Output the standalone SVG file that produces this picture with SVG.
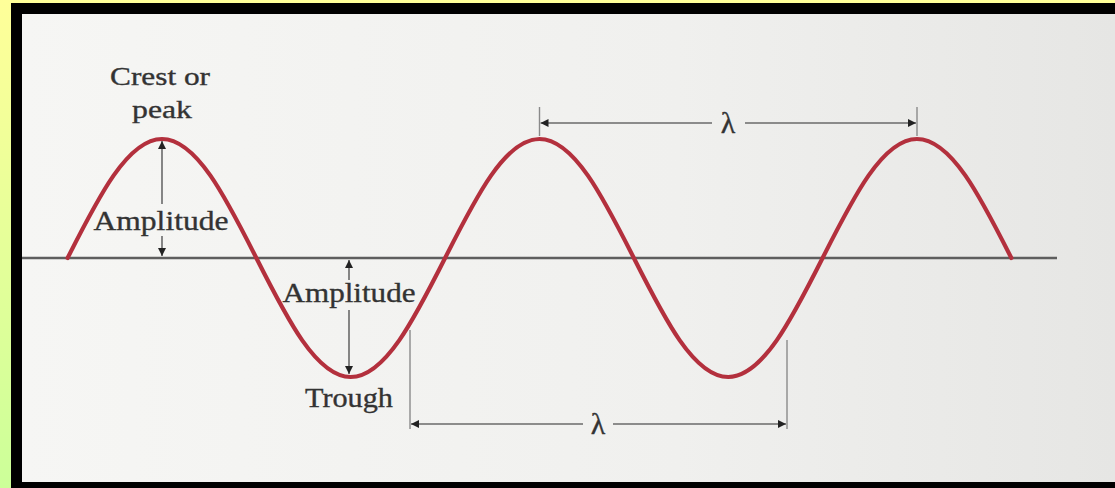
<svg xmlns="http://www.w3.org/2000/svg" width="1115" height="488" viewBox="0 0 1115 488">
  <defs>
    <linearGradient id="border" x1="0" y1="0" x2="0" y2="1">
      <stop offset="0" stop-color="#ffff99"/>
      <stop offset="1" stop-color="#ccff99"/>
    </linearGradient>
    <linearGradient id="paper" x1="0" y1="0" x2="1" y2="0">
      <stop offset="0" stop-color="#f6f6f4"/>
      <stop offset="0.6" stop-color="#f0f0ee"/>
      <stop offset="1" stop-color="#e6e6e4"/>
    </linearGradient>
    <marker id="ah" viewBox="0 0 10 10" refX="10" refY="5" markerWidth="8" markerHeight="8" markerUnits="userSpaceOnUse" orient="auto-start-reverse">
      <path d="M0 0 L10 5 L0 10 z" fill="#222"/>
    </marker>
    <style>
      .lbl { font-family: "Liberation Serif", "Times New Roman", serif; fill: #333; stroke: #333; stroke-width: 0.35; text-anchor: middle; }
      .dim { stroke: #6a6a6a; stroke-width: 1.6; fill: none; }
      .tick { stroke: #8a8a8a; stroke-width: 1.4; fill: none; }
      .wave { stroke: #b3303d; stroke-width: 4.2; fill: none; stroke-linecap: round; }
      .axis { stroke: #5e5e5e; stroke-width: 2.5; }
    </style>
  </defs>

  <!-- frame -->
  <rect x="0" y="0" width="1115" height="488" fill="url(#border)"/>
  <rect x="11" y="3" width="1104" height="485" fill="#000"/>
  <rect x="22" y="14" width="1093" height="468" fill="url(#paper)"/>

  <!-- axis -->
  <line class="axis" x1="22" y1="258" x2="1057" y2="258"/>

  <!-- wave -->
  <path id="wave" class="wave" d="M67.6 258 c30.78 -60.96 60.17 -119 94.375 -119 s63.6 58.04 94.375 119 s60.17 119 94.375 119 s63.6 -58.04 94.375 -119 s60.17 -119 94.375 -119 s63.6 58.04 94.375 119 s60.17 119 94.375 119 s63.6 -58.04 94.375 -119 s60.17 -119 94.375 -119 s63.6 58.04 94.375 119"/>

  <!-- connectors / dimension lines -->
  <g id="connectors">
    <!-- amplitude 1 (crest) -->
    <line class="dim" x1="162" y1="176" x2="162" y2="141" marker-end="url(#ah)"/>
    <line class="dim" x1="162" y1="176" x2="162" y2="204"/>
    <line class="dim" x1="162" y1="236" x2="162" y2="256" marker-end="url(#ah)"/>
    <!-- amplitude 2 (trough) -->
    <line class="dim" x1="349" y1="280" x2="349" y2="260" marker-end="url(#ah)"/>
    <line class="dim" x1="349" y1="310" x2="349" y2="374" marker-end="url(#ah)"/>
    <!-- top wavelength -->
    <line class="tick" x1="539.5" y1="107" x2="539.5" y2="136"/>
    <line class="tick" x1="917" y1="107" x2="917" y2="136"/>
    <line class="dim" x1="712" y1="123" x2="540.5" y2="123" marker-end="url(#ah)"/>
    <line class="dim" x1="745" y1="123" x2="916" y2="123" marker-end="url(#ah)"/>
    <!-- bottom wavelength -->
    <line class="tick" x1="410" y1="330" x2="410" y2="429"/>
    <line class="tick" x1="787" y1="340" x2="787" y2="429"/>
    <line class="dim" x1="583" y1="424" x2="411" y2="424" marker-end="url(#ah)"/>
    <line class="dim" x1="613" y1="424" x2="786" y2="424" marker-end="url(#ah)"/>
  </g>

  <!-- labels -->
  <g id="crest-label">
    <text class="lbl" x="160" y="85" font-size="26" textLength="100" lengthAdjust="spacingAndGlyphs">Crest or</text>
    <text class="lbl" x="162" y="118" font-size="26" textLength="60" lengthAdjust="spacingAndGlyphs">peak</text>
  </g>
  <g id="amplitude-1">
    <text class="lbl" x="161" y="230" font-size="27" textLength="135" lengthAdjust="spacingAndGlyphs">Amplitude</text>
  </g>
  <g id="amplitude-2">
    <text class="lbl" x="349" y="302" font-size="27" textLength="133" lengthAdjust="spacingAndGlyphs">Amplitude</text>
  </g>
  <g id="trough-label">
    <text class="lbl" x="349" y="407" font-size="27" textLength="88" lengthAdjust="spacingAndGlyphs">Trough</text>
  </g>
  <g id="lambda-top">
    <text class="lbl" x="728" y="133" font-size="30">λ</text>
  </g>
  <g id="lambda-bottom">
    <text class="lbl" x="598" y="434" font-size="30">λ</text>
  </g>
</svg>
